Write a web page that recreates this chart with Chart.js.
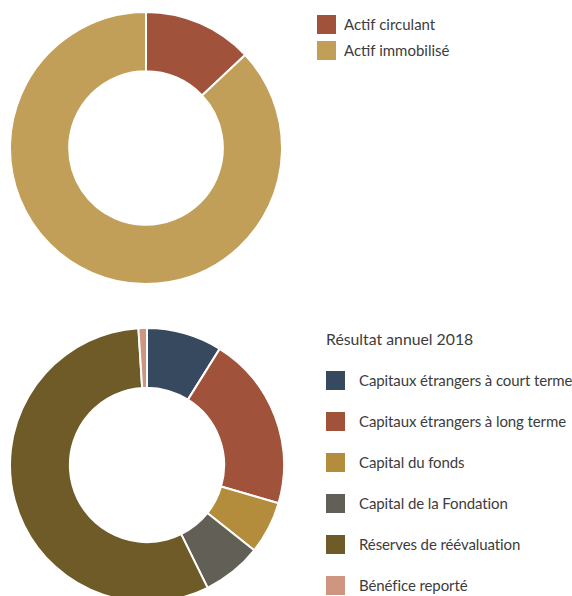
<!DOCTYPE html>
<html><head><meta charset="utf-8">
<script src="https://cdn.jsdelivr.net/npm/chart.js@4"></script>
<style>
html,body{margin:0;padding:0;background:#fff;width:572px;height:596px;overflow:hidden;}
body{position:relative;font-family:Lato,"Open Sans",sans-serif;color:#3c3c3c;}
.wrap{position:absolute;}
.legend{position:absolute;font-size:15px;}
.item{position:absolute;left:0;white-space:nowrap;height:19px;line-height:19px;}
.box{position:absolute;left:0;top:0;width:19px;height:19px;}
.lbl{position:absolute;top:0;}
.title{position:absolute;left:0;white-space:nowrap;line-height:19px;font-size:15.8px;}
#l2 .lbl{letter-spacing:-0.1px;}
</style></head>
<body>
<div class="wrap" style="left:9px;top:11px;width:274px;height:274px;"><canvas id="c1"></canvas></div>
<div class="wrap" style="left:9px;top:327px;width:276px;height:276px;"><canvas id="c2"></canvas></div>
<div class="legend" id="l1" style="left:317px;top:15px;"></div>
<div class="legend" id="l2" style="left:326px;top:329px;"></div>
<script>
const actifLabels = ["Actif circulant", "Actif immobilisé"];
const actifValues = [13.0, 87.0];
const actifColors = ["#A0523A", "#C29F58"];

const passifTitle = "Résultat annuel 2018";
const passifLabels = ["Capitaux étrangers à court terme", "Capitaux étrangers à long terme", "Capital du fonds", "Capital de la Fondation", "Réserves de réévaluation", "Bénéfice reporté"];
const passifValues = [8.9, 20.6, 6.2, 7.0, 56.3, 1.0];
const passifColors = ["#36495F", "#A0523A", "#B38D3B", "#625F56", "#6E5B28", "#CE9580"];

function donut(id, labels, values, colors, cutout) {
  new Chart(document.getElementById(id), {
    type: 'doughnut',
    data: { labels: labels, datasets: [{ data: values, backgroundColor: colors, borderColor: '#ffffff', borderWidth: 2, hoverOffset: 0 }] },
    options: {
      responsive: true, maintainAspectRatio: false, animation: false,
      cutout: cutout,
      layout: { padding: 0 },
      plugins: { legend: { display: false }, tooltip: { enabled: false } }
    }
  });
}
donut('c1', actifLabels, actifValues, actifColors, '56.5%');
donut('c2', passifLabels, passifValues, passifColors, '56.3%');

function legend(id, labels, colors, spacing, offsetY, title) {
  const el = document.getElementById(id);
  if (title) {
    const t = document.createElement('div');
    t.className = 'title'; t.style.top = '0px'; t.textContent = title;
    el.appendChild(t);
  }
  labels.forEach((lab, i) => {
    const it = document.createElement('div');
    it.className = 'item';
    it.style.top = (offsetY + i * spacing) + 'px';
    const b = document.createElement('div'); b.className = 'box'; b.style.background = colors[i];
    const s = document.createElement('div'); s.className = 'lbl'; s.style.left = (title ? 33 : 27) + 'px'; s.textContent = lab;
    it.appendChild(b); it.appendChild(s); el.appendChild(it);
  });
}
legend('l1', actifLabels, actifColors, 26, 0, null);
legend('l2', passifLabels, passifColors, 40.9, 42, passifTitle);
</script>
</body></html>
